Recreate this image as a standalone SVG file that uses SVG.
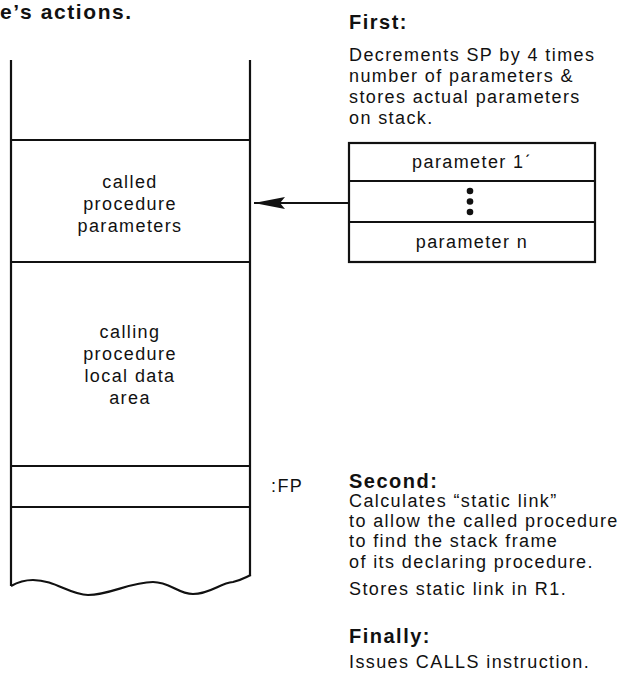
<svg xmlns="http://www.w3.org/2000/svg" width="632" height="692" viewBox="0 0 632 692">
<style>
text{font-family:"Liberation Sans",Arial,sans-serif;fill:#111;}
.b{font-size:20px;font-weight:bold;letter-spacing:1.5px;}
.t{font-size:18px;letter-spacing:1.4px;}
.c{text-anchor:middle;}
.ln{stroke:#111;stroke-width:2.2;fill:none;}
</style>
<defs>
<marker id="ah" markerUnits="userSpaceOnUse" markerWidth="34" markerHeight="16" refX="31" refY="8" orient="auto">
<path d="M31,8 L0,2 L5,8 L0,14 Z" fill="#111"/>
</marker>
</defs>
<rect width="632" height="692" fill="#fff"/>
<text class="b" x="0" y="19" style="font-size:21px;letter-spacing:1.6px">e’s actions.</text>

<g id="stack">
<path class="ln" d="M11,60 V586"/>
<path class="ln" d="M250,60 V575"/>
<path class="ln" d="M11,586 C18,582 25,580 33,580 C55,580 70,595 88,595 C110,595 130,582 153,582 C170,582 178,594 193,594 C210,594 220,583 233,582 C242,580 246,577 251,575"/>
</g>
<g id="called-params">
<path class="ln" d="M11,140 H250"/>
<text class="t c" x="130" y="188">called</text>
<text class="t c" x="130" y="210">procedure</text>
<text class="t c" x="130" y="232">parameters</text>
</g>
<g id="calling-local">
<path class="ln" d="M11,262 H250"/>
<text class="t c" x="130" y="338">calling</text>
<text class="t c" x="130" y="360">procedure</text>
<text class="t c" x="130" y="382">local data</text>
<text class="t c" x="130" y="404">area</text>
</g>
<g id="fp-slot">
<path class="ln" d="M11,466 H250"/>
<path class="ln" d="M11,507 H250"/>
<text class="t" x="271" y="492">:FP</text>
</g>

<g id="first">
<text class="b" x="349" y="29">First:</text>
<text class="t" x="349" y="61">Decrements SP by 4 times</text>
<text class="t" x="349" y="82">number of parameters &amp;</text>
<text class="t" x="349" y="103">stores actual parameters</text>
<text class="t" x="349" y="124">on stack.</text>
</g>
<g id="param-box">
<rect class="ln" x="349" y="143" width="246" height="119"/>
<path class="ln" d="M349,181 H595 M349,222 H595"/>
<text class="t c" x="472" y="168">parameter 1ˊ</text>
<circle cx="470" cy="191" r="3.3" fill="#111"/>
<circle cx="470" cy="201.5" r="3.3" fill="#111"/>
<circle cx="470" cy="212" r="3.3" fill="#111"/>
<text class="t c" x="472" y="248">parameter n</text>
</g>
<g id="connectors">
<path class="ln" d="M349,203 H254" marker-end="url(#ah)"/>
</g>

<g id="second">
<text class="b" x="349" y="488">Second:</text>
<text class="t" x="349" y="507">Calculates “static link”</text>
<text class="t" x="349" y="527">to allow the called procedure</text>
<text class="t" x="349" y="547">to find the stack frame</text>
<text class="t" x="349" y="568">of its declaring procedure.</text>
<text class="t" x="349" y="595">Stores static link in R1.</text>
</g>
<g id="finally">
<text class="b" x="349" y="643">Finally:</text>
<text class="t" x="349" y="668">Issues CALLS instruction.</text>
</g>
</svg>
